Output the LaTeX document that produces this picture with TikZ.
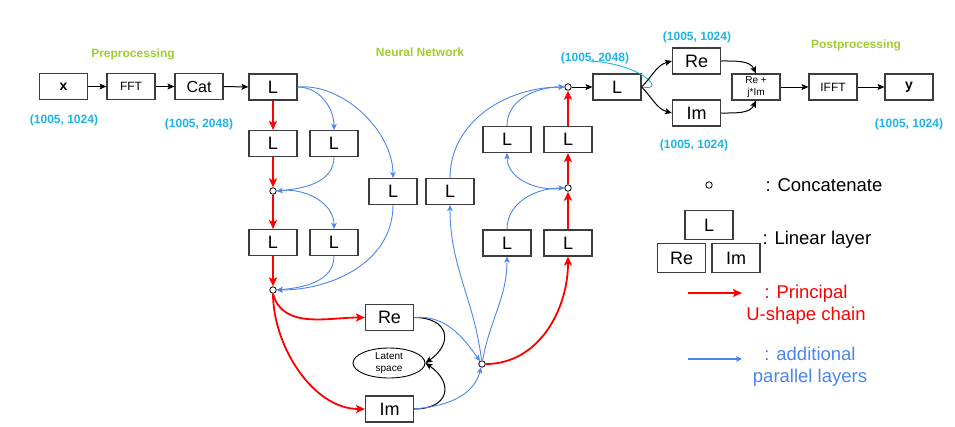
\documentclass[tikz,border=0pt]{standalone}
\usepackage{fontspec}
\setmainfont{Liberation Sans}
\usetikzlibrary{arrows.meta,shapes.geometric}
\definecolor{pblue}{HTML}{4A86E8}
\definecolor{lblue}{RGB}{30,180,230}
\definecolor{lgreen}{RGB}{160,205,50}
\definecolor{boxgray}{RGB}{60,60,60}
\tikzset{
  box/.style={draw=boxgray, line width=1.1pt, minimum width=48pt, minimum height=26pt, inner sep=0pt, font=\fontsize{18}{18}\selectfont},
  cc/.style={circle, draw=black, fill=white, inner sep=0pt, minimum size=6.5pt, line width=0.8pt},
  ra/.style={draw=red, line width=1.8pt, -{Stealth[length=9pt,width=8pt,inset=2pt]}},
  ba/.style={draw=pblue, line width=0.9pt, -{Stealth[length=6pt,width=5.5pt,inset=1.5pt]}},
  ka/.style={draw=black, line width=1pt, -{Stealth[length=7pt,width=6pt,inset=1.5pt]}},
  dimlab/.style={text=lblue, font=\bfseries\fontsize{12}{12}\selectfont},
  seclab/.style={text=lgreen, font=\bfseries\fontsize{12}{12}\selectfont},
  legtxt/.style={font=\fontsize{18.5}{22}\selectfont, align=center}
}
\begin{document}
\begin{tikzpicture}[x=1pt,y=1pt]
\useasboundingbox (0,0) rectangle (955,-426);
% section labels
\node[seclab] (prep) at (133,-54) {Preprocessing};
\node[seclab] (nn) at (420,-52) {Neural Network};
\node[seclab] (post) at (856,-45) {Postprocessing};
% dimension labels
\node[dimlab] (d1) at (64,-120) {(1005, 1024)};
\node[dimlab] (d2) at (199,-124) {(1005, 2048)};
\node[dimlab] (d3) at (697,-37) {(1005, 1024)};
\node[dimlab] (d4) at (595,-58) {(1005, 2048)};
\node[dimlab] (d5) at (694,-145) {(1005, 1024)};
\node[dimlab] (d6) at (909,-124) {(1005, 1024)};
% top row
\node[box, font=\bfseries\fontsize{14}{14}\selectfont] (x) at (63.5,-86.5) {x};
\node[box, font=\fontsize{12}{12}\selectfont] (fft) at (131,-86.5) {FFT};
\node[box, font=\fontsize{16}{16}\selectfont] (cat) at (199,-86.5) {Cat};
\node[box] (L0) at (273,-87) {L};
% encoder
\node[box] (L1) at (273,-143.5) {L};
\node[box] (L1r) at (334,-143.5) {L};
\node[cc] (c1) at (273,-191) {};
\node[box] (L2) at (273,-242.5) {L};
\node[box] (L2r) at (334,-242.5) {L};
\node[cc] (c2) at (273,-290) {};
\node[box] (Lm) at (393,-191.5) {L};
\node[box] (Lm2) at (450,-191.5) {L};
% latent
\node[box] (Re) at (389.5,-317.5) {Re};
\node[box] (Im) at (389.5,-409) {Im};
\node[ellipse, draw=black, line width=0.9pt, minimum width=72pt, minimum height=30pt, inner sep=0pt, align=center, font=\fontsize{10}{12}\selectfont] (lat) at (389,-363) {Latent\\space};
\node[cc] (c3) at (482,-364) {};
% decoder
\node[box] (Lb1) at (507,-243) {L};
\node[box] (Lb2) at (568,-243) {L};
\node[cc] (c4) at (568,-188) {};
\node[box] (Lu1) at (507,-139.5) {L};
\node[box] (Lu2) at (568,-139.5) {L};
\node[cc] (c5) at (568,-87) {};
\node[box] (Lout) at (617,-87) {L};
% post
\node[box] (Re2) at (696.5,-61) {Re};
\node[box] (Im2) at (696.5,-113) {Im};
\node[box, align=center, font=\fontsize{10}{12}\selectfont] (rj) at (756,-87) {Re +\\j*Im};
\node[box, font=\fontsize{12}{12}\selectfont] (ifft) at (833,-87) {IFFT};
\node[box, font=\bfseries\fontsize{14}{14}\selectfont] (y) at (909,-87) {y};
% cyan annotation
\coordinate (ann) at (590,-61);
\draw[lblue, line width=0.9pt] (ann) .. controls (642,-64) and (668,-92) .. (Lout.east);
% top row arrows
\draw[ka] (x) -- (fft);
\draw[ka] (fft) -- (cat);
\draw[ka] (cat) -- (L0);
% red encoder chain
\draw[ra] (L0) -- (L1);
\draw[ra] (L1) -- (c1);
\draw[ra] (c1) -- (L2);
\draw[ra] (L2) -- (c2);
\draw[ra] (c2.south) to[out=-75,in=180] (Re.west);
\draw[ra] (c2.south) to[out=-90,in=180,looseness=0.9] (Im.west);
% blue encoder
\draw[ba] (L0.east) to[out=0,in=90] (L1r.north);
\draw[ba] (L0.east) to[out=5,in=90,looseness=0.9] (Lm.north);
\draw[ba] (L1r.south) to[out=270,in=5] (c1.east);
\draw[ba] (c1.east) to[out=10,in=90] (L2r.north);
\draw[ba] (L2r.south) to[out=270,in=5] (c2.east);
\draw[ba] (Lm.south) to[out=270,in=0] (c2.east);
% latent
\draw[ka] (Re.east) to[out=0,in=35,looseness=1.9] (lat.east);
\draw[ka] (Im.east) to[out=0,in=-35,looseness=1.9] (lat.east);
\draw[ba] (Re.east) to[out=5,in=125] (c3);
\draw[ba] (Im.east) to[out=5,in=255] (c3);
% decoder
\draw[ba] (c3) to[out=97,in=270] (Lm2.south);
\draw[ba] (c3) to[out=80,in=270] (Lb1.south);
\draw[ra] (c3.east) to[out=0,in=270] (Lb2.south);
\draw[ra] (Lb2) -- (c4);
\draw[ra] (c4) -- (Lu2);
\draw[ra] (Lu2) -- (c5);
\draw[ba] (Lb1.north) to[out=90,in=180] (c4.west);
\draw[ba] (c4.west) to[out=190,in=270] (Lu1.south);
\draw[ba] (Lu1.north) to[out=90,in=180] (c5.west);
\draw[ba] (Lm2.north) to[out=90,in=180] (c5.west);
% post
\draw[ka] (c5) -- (Lout);
\draw[ka] (Lout.east) to[out=45,in=195] (Re2.west);
\draw[ka] (Lout.east) to[out=-45,in=165] (Im2.west);
\draw[ka] (Re2.east) to[out=0,in=115] (rj.north);
\draw[ka] (Im2.east) to[out=0,in=245] (rj.south);
\draw[ka] (rj) -- (ifft);
\draw[ka] (ifft) -- (y);
% legend
\node[cc] (lc) at (709,-185) {};
\node[legtxt, anchor=west] (lct) at (762,-185) {: Concatenate};
\node[box, minimum height=29pt] (lL) at (709,-225) {L};
\node[box, minimum height=29pt] (lRe) at (681.5,-258) {Re};
\node[box, minimum height=29pt] (lIm) at (736,-258) {Im};
\node[legtxt, anchor=west] (llt) at (759,-240) {: Linear layer};
\coordinate (lra) at (688,-293);
\coordinate (lrb) at (742,-293);
\draw[ra, line width=1.6pt] (lra) -- (lrb);
\node[legtxt, text=red] (lrt) at (806,-304.5) {: Principal\\U-shape chain};
\coordinate (lba) at (688,-359);
\coordinate (lbb) at (742,-359);
\draw[ba, line width=1.4pt] (lba) -- (lbb);
\node[legtxt, text=pblue] (lbt) at (810,-366.5) {: additional\\parallel layers};
\end{tikzpicture}
\end{document}
